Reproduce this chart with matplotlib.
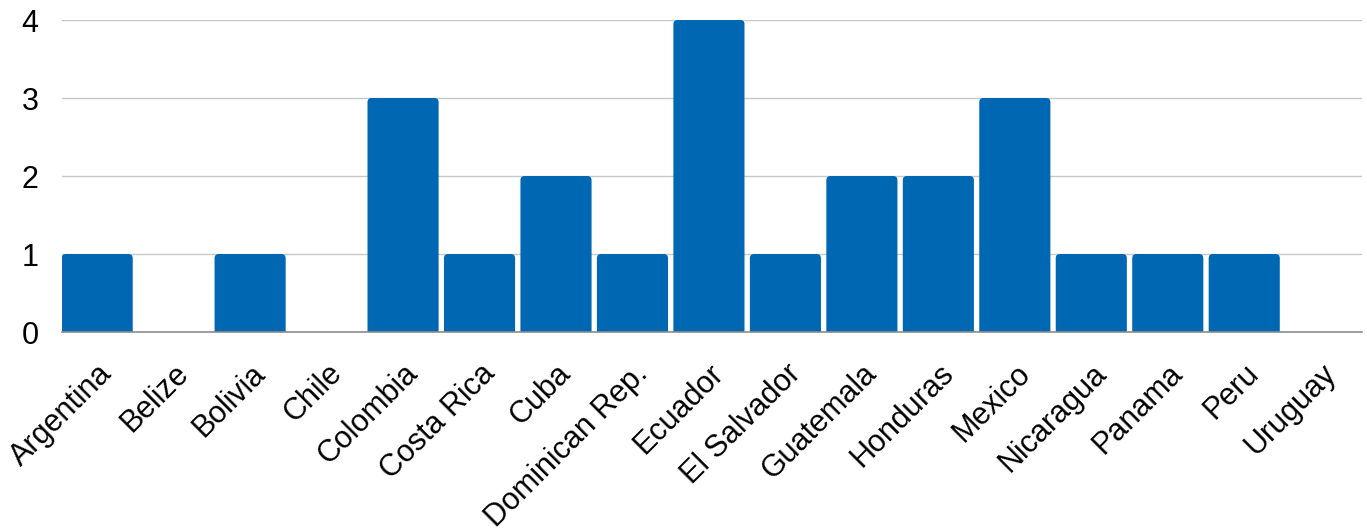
import matplotlib.pyplot as plt
from matplotlib.patches import FancyBboxPatch

countries = ["Argentina", "Belize", "Bolivia", "Chile", "Colombia", "Costa Rica",
             "Cuba", "Dominican Rep.", "Ecuador", "El Salvador", "Guatemala",
             "Honduras", "Mexico", "Nicaragua", "Panama", "Peru", "Uruguay"]
counts = [1, 0, 1, 0, 3, 1, 2, 1, 4, 1, 2, 2, 3, 1, 1, 1, 0]

plt.rcParams["font.family"] = ["Liberation Sans", "DejaVu Sans"]

W, H = 1367, 530
fig = plt.figure(figsize=(W / 100, H / 100), dpi=100)
ax = fig.add_axes([62 / W, 1 - 332 / H, (1362 - 62) / W, (332 - 20) / H])

color = "#0068b3"
bar_w = 0.93
bars = ax.bar(range(len(countries)), counts, width=bar_w, color="none")
# swap the plain bars for ones with slightly rounded tops
for b, v in zip(bars, counts):
    if v <= 0:
        continue
    p = FancyBboxPatch((b.get_x(), -0.2), b.get_width(), v + 0.2,
                       boxstyle="round,pad=0,rounding_size=0.055",
                       mutation_aspect=76.5 / 78.0,
                       facecolor=color, edgecolor="none", zorder=2)
    ax.add_patch(p)

ax.set_xlim(-0.46, len(countries) - 0.46)
ax.set_ylim(0, 4)
ax.set_yticks([0, 1, 2, 3, 4])
ax.grid(axis="y", color="#c8c8c8", linewidth=1)
ax.set_axisbelow(True)
for s in ["left", "right", "top"]:
    ax.spines[s].set_visible(False)
ax.spines["bottom"].set_color("#8c8c8c")
ax.spines["bottom"].set_linewidth(1.2)
ax.tick_params(axis="both", length=0, labelsize=22)
ax.tick_params(axis="y", pad=17)
ax.tick_params(axis="x", pad=19)
ax.set_xticks(range(len(countries)))
ax.set_xticklabels(countries, rotation=45, ha="right", va="top", rotation_mode="anchor")

plt.savefig("out.png", dpi=100)
